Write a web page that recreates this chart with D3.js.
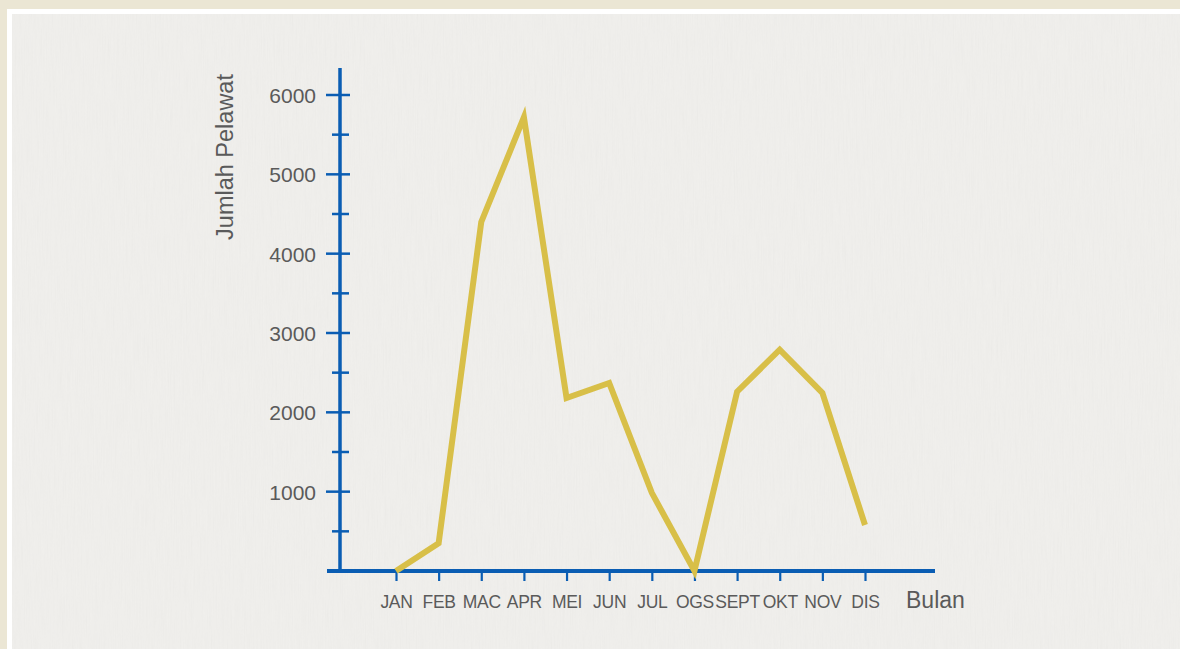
<!DOCTYPE html>
<html>
<head>
<meta charset="utf-8">
<script src="https://cdn.jsdelivr.net/npm/d3@7"></script>
<style>
  html, body { margin: 0; padding: 0; background: #ebe6d4; }
  svg { display: block; font-family: "Liberation Sans", Arial, sans-serif; }
</style>
</head>
<body>
<svg id="chart" width="1180" height="649"></svg>
<script>
var WIDTH = 1180;
var HEIGHT = 649;

// data
var months = ["JAN", "FEB", "MAC", "APR", "MEI", "JUN", "JUL", "OGS", "SEPT", "OKT", "NOV", "DIS"];
var visitors = [0, 350, 4400, 5720, 2180, 2370, 985, 0, 2260, 2790, 2245, 580];
var majorTicks = [1000, 2000, 3000, 4000, 5000, 6000];
var minorTicks = [500, 1500, 2500, 3500, 4500, 5500];

var AXIS_COLOR = "#0a5db3";
var LINE_COLOR = "#d8bf48";
var TEXT_COLOR = "#5a5a5a";

var svg = d3.select("#chart");

// paper texture
var defs = svg.append("defs");
var f = defs.append("filter").attr("id", "grain").attr("x", 0).attr("y", 0).attr("width", "100%").attr("height", "100%");
f.append("feTurbulence").attr("type", "fractalNoise").attr("baseFrequency", "0.9 0.03").attr("numOctaves", 2).attr("seed", 3);
f.append("feColorMatrix").attr("type", "saturate").attr("values", 0);

svg.append("rect").attr("x", 0).attr("y", 0).attr("width", WIDTH).attr("height", HEIGHT).attr("fill", "#ebe6d4");
svg.append("rect").attr("x", 7).attr("y", 9).attr("width", WIDTH - 7).attr("height", HEIGHT - 9).attr("fill", "#ffffff");
svg.append("rect").attr("x", 12).attr("y", 14).attr("width", WIDTH - 12).attr("height", HEIGHT - 14).attr("fill", "#f0efec");
svg.append("rect").attr("x", 12).attr("y", 14).attr("width", WIDTH - 12).attr("height", HEIGHT - 14)
    .attr("filter", "url(#grain)").attr("opacity", 0.05);

// scales
var x = d3.scalePoint().domain(months).range([396, 865]);
var y = d3.scaleLinear().domain([0, 6000]).range([571, 95]);
var AXIS_X = 340;

// y axis labels (d3 axis, line hidden)
var yAxis = svg.append("g")
    .attr("transform", "translate(" + (AXIS_X - 24) + ",0)")
    .call(d3.axisLeft(y).tickValues(majorTicks).tickSize(0).tickPadding(0).tickFormat(d3.format("d")));
yAxis.select(".domain").remove();
yAxis.selectAll("text")
    .attr("fill", TEXT_COLOR)
    .attr("font-size", "21px")
    .attr("font-family", "Liberation Sans, Arial, sans-serif")
    .attr("dy", "0.35em");

// y ticks crossing the axis
svg.append("g").selectAll("line.major")
    .data(majorTicks).join("line")
    .attr("x1", AXIS_X - 14).attr("x2", AXIS_X + 10)
    .attr("y1", function(d) { return y(d); }).attr("y2", function(d) { return y(d); })
    .attr("stroke", AXIS_COLOR).attr("stroke-width", 2.5);
svg.append("g").selectAll("line.minor")
    .data(minorTicks).join("line")
    .attr("x1", AXIS_X - 8).attr("x2", AXIS_X + 9)
    .attr("y1", function(d) { return y(d); }).attr("y2", function(d) { return y(d); })
    .attr("stroke", AXIS_COLOR).attr("stroke-width", 2.5);

// x axis
var xAxis = svg.append("g")
    .attr("transform", "translate(0," + y(0) + ")")
    .call(d3.axisBottom(x).tickSize(10).tickPadding(15));
xAxis.select(".domain").remove();
xAxis.selectAll(".tick line").attr("stroke", AXIS_COLOR).attr("stroke-width", 2.2);
xAxis.selectAll(".tick text")
    .attr("fill", TEXT_COLOR)
    .attr("font-size", "17.5px")
    .attr("font-family", "Liberation Sans, Arial, sans-serif")
    .attr("letter-spacing", "-0.3px");

// axis lines
svg.append("line")
    .attr("x1", AXIS_X).attr("x2", AXIS_X)
    .attr("y1", 68).attr("y2", y(0) + 2)
    .attr("stroke", AXIS_COLOR).attr("stroke-width", 3.5);
svg.append("line")
    .attr("x1", 327).attr("x2", 935)
    .attr("y1", y(0)).attr("y2", y(0))
    .attr("stroke", AXIS_COLOR).attr("stroke-width", 4);

// axis titles
svg.append("text")
    .attr("transform", "translate(233,157) rotate(-90)")
    .attr("text-anchor", "middle")
    .attr("fill", TEXT_COLOR)
    .attr("font-size", "23.5px")
    .text("Jumlah Pelawat");
svg.append("text")
    .attr("x", 906).attr("y", 608)
    .attr("fill", TEXT_COLOR)
    .attr("font-size", "23px")
    .text("Bulan");

// the line
var line = d3.line()
    .x(function(d, i) { return x(months[i]); })
    .y(function(d) { return y(d); });
svg.append("path")
    .datum(visitors)
    .attr("d", line)
    .attr("fill", "none")
    .attr("stroke", LINE_COLOR)
    .attr("stroke-width", 6)
    .attr("stroke-linejoin", "miter");
</script>
</body>
</html>
